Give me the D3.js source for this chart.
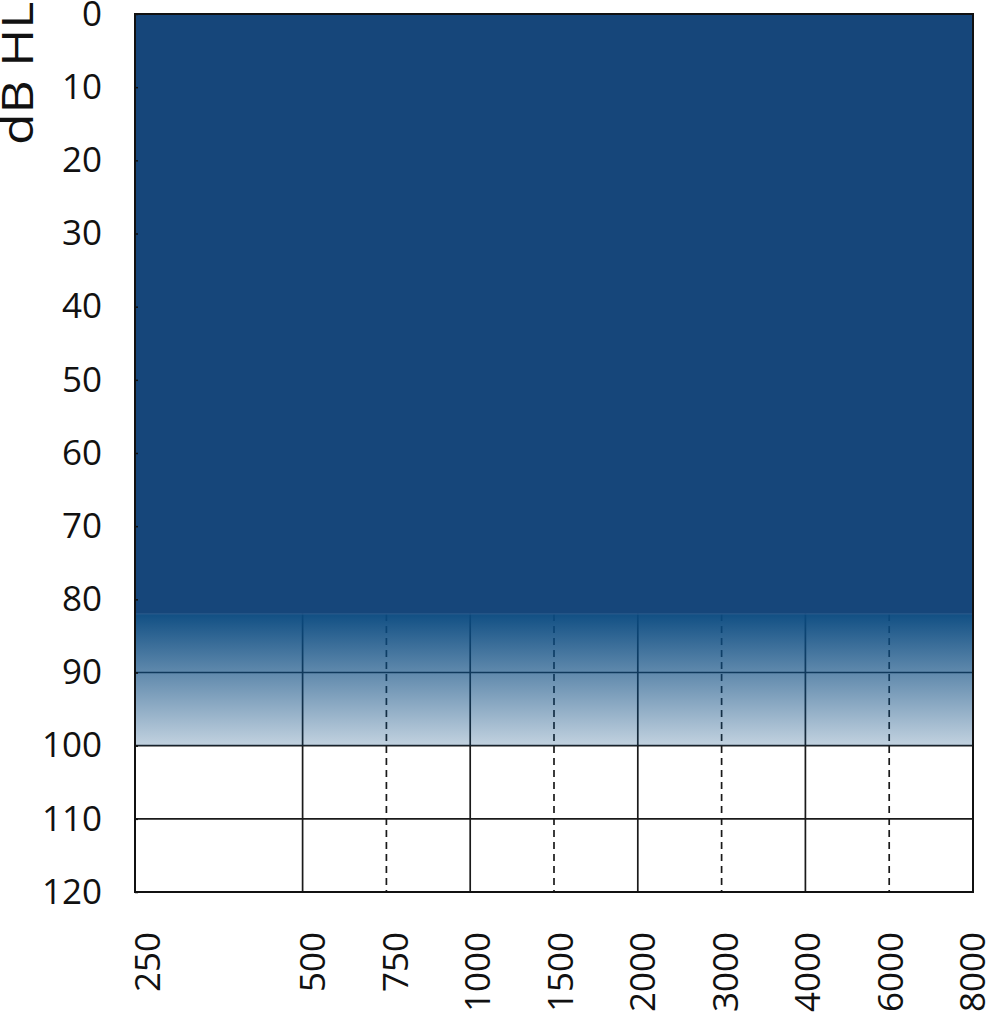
<!DOCTYPE html>
<html>
<head>
<meta charset="utf-8">
<script src="https://cdn.jsdelivr.net/npm/d3@7"></script>
<style>
  body { margin: 0; background: #fff; }
  svg { display: block; }
  text { font-family: "Open Sans", "DejaVu Sans", sans-serif; fill: #111; }
</style>
</head>
<body>
<svg id="chart" width="988" height="1024"></svg>
<script>
// audiogram axes
const freqLabels = ['250', '500', '750', '1000', '1500', '2000', '3000', '4000', '6000', '8000'];
const freqSlots = [0, 1, 1.5, 2, 2.5, 3, 3.5, 4, 4.5, 5];   // octave position of each frequency
const octaveFreqs = ['500', '1000', '2000', '4000'];     // solid grid lines
const midFreqs = ['750', '1500', '3000', '6000'];        // dashed grid lines
const dbTicks = [0, 10, 20, 30, 40, 50, 60, 70, 80, 90, 100, 110, 120];

// shaded zone: solid down to 82 dB, fading out to 100 dB
const solidZone = [0, 82];
const fadeZone = [82, 100];

let svg = d3.select('#chart');
let plotL = 135, plotR = 973, plotT = 14, plotB = 892;

let x = d3.scaleLinear().domain([0, 5]).range([plotL, plotR]);
let xLabel = d3.scaleLinear().domain([0, 5]).range([148, 973]);
let y = d3.scaleLinear().domain([0, 120]).range([plotT, plotB]);
let slotOf = f => freqSlots[freqLabels.indexOf(f)];

let defs = svg.append('defs');
let grad = defs.append('linearGradient')
	.attr('id', 'fade')
	.attr('x1', 0).attr('y1', 0).attr('x2', 0).attr('y2', 1);
grad.append('stop').attr('offset', '0%').attr('stop-color', '#0a4a80').attr('stop-opacity', 0.97);
grad.append('stop').attr('offset', '100%').attr('stop-color', '#0a4a80').attr('stop-opacity', 0.25);

// grid
let grid = svg.append('g');
grid.selectAll('line.h')
	.data(dbTicks)
	.enter().append('line')
	.attr('x1', plotL).attr('x2', plotR)
	.attr('y1', d => y(d)).attr('y2', d => y(d))
	.attr('stroke', '#1a1a1a').attr('stroke-width', 1.7);
grid.selectAll('line.v')
	.data(octaveFreqs)
	.enter().append('line')
	.attr('x1', d => x(slotOf(d))).attr('x2', d => x(slotOf(d)))
	.attr('y1', plotT).attr('y2', plotB)
	.attr('stroke', '#1a1a1a').attr('stroke-width', 1.7);
grid.selectAll('line.d')
	.data(midFreqs)
	.enter().append('line')
	.attr('x1', d => x(slotOf(d))).attr('x2', d => x(slotOf(d)))
	.attr('y1', plotT).attr('y2', plotB)
	.attr('stroke', '#1a1a1a').attr('stroke-width', 1.7)
	.attr('stroke-dasharray', '7,5');

// shaded zones
svg.append('rect')
	.attr('x', plotL).attr('width', plotR - plotL)
	.attr('y', y(solidZone[0])).attr('height', y(solidZone[1]) - y(solidZone[0]))
	.attr('fill', '#16467a');
svg.append('rect')
	.attr('x', plotL).attr('width', plotR - plotL)
	.attr('y', y(fadeZone[0])).attr('height', y(fadeZone[1]) - y(fadeZone[0]))
	.attr('fill', 'url(#fade)');
svg.append('line')
	.attr('x1', plotL).attr('x2', plotR)
	.attr('y1', y(fadeZone[0])).attr('y2', y(fadeZone[0]))
	.attr('stroke', '#2c5d8e').attr('stroke-width', 1);

// frame
svg.append('rect')
	.attr('x', plotL).attr('y', plotT)
	.attr('width', plotR - plotL).attr('height', plotB - plotT)
	.attr('fill', 'none').attr('stroke', '#111').attr('stroke-width', 2);

// y axis
let yAxis = d3.axisLeft(y).tickValues(dbTicks).tickSizeInner(-3).tickSizeOuter(0).tickPadding(33);
let yg = svg.append('g').attr('transform', `translate(${plotL},0)`).call(yAxis);
yg.select('.domain').remove();
yg.selectAll('.tick line').attr('stroke', '#111').attr('stroke-width', 1.5);
yg.selectAll('.tick text')
	.style('font-family', '"Open Sans", "DejaVu Sans", sans-serif')
	.style('font-size', '35px')
	.attr('fill', '#111');

// x labels, rotated
svg.append('g').selectAll('text')
	.data(freqLabels)
	.enter().append('text')
	.attr('transform', d => `translate(${xLabel(slotOf(d))},932) rotate(-90)`)
	.attr('text-anchor', 'end')
	.attr('dy', '0.35em')
	.style('font-size', '35px')
	.text(d => d);

// y title, stretched a little along its length
svg.append('text')
	.attr('transform', 'translate(33,145) rotate(-90) scale(1.2,1)')
	.attr('text-anchor', 'start')
	.style('font-size', '43px')
	.text('dB HL');
</script>
</body>
</html>
